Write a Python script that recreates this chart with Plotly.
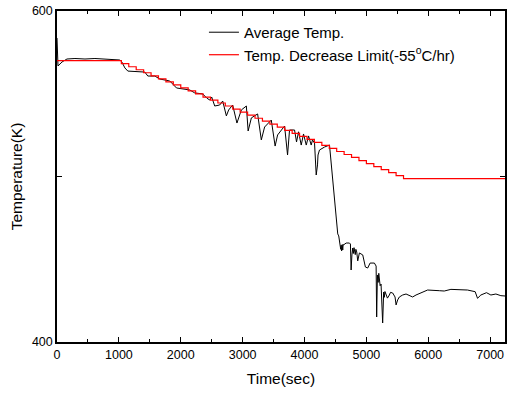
import plotly.graph_objects as go

# Average temperature (time in s, temperature in K)
avg_time = [0, 8, 16, 81, 161, 290, 452, 613, 774, 936, 1016, 1048, 1097, 1145, 1258, 1419,
            1468, 1581, 1661, 1742, 1823, 1931, 2065, 2145, 2226, 2355, 2420, 2468, 2500,
            2549, 2629, 2678, 2737, 2774, 2839, 2908, 2979, 3060, 3089, 3141, 3242, 3302,
            3355, 3463, 3525, 3565, 3678, 3726, 3758, 3839, 3871, 3904, 3947, 3984, 4028,
            4065, 4108, 4129, 4162, 4189, 4210, 4218, 4242, 4323, 4404, 4428, 4457, 4484,
            4500, 4521, 4537, 4553, 4573, 4585, 4592, 4600, 4608, 4618, 4624, 4629, 4673,
            4726, 4742, 4753, 4766, 4779, 4790, 4800, 4807, 4820, 4830, 4844, 4860, 4887,
            4941, 4984, 5021, 5060, 5129, 5157, 5166, 5178, 5190, 5200, 5210, 5222, 5237,
            5250, 5263, 5279, 5290, 5300, 5318, 5340, 5371, 5390, 5425, 5463, 5480, 5505,
            5533, 5586, 5641, 5694, 5747, 5802, 5989, 6178, 6258, 6366, 6634, 6758, 6796,
            6850, 6941, 7012, 7093, 7173, 7240]
avg_temp = [583.7, 568.6, 566.8, 569.2, 571.0, 571.3, 571.0, 571.3, 571.0, 570.7, 570.4, 569.2,
            565.6, 563.7, 563.4, 563.1, 560.7, 560.7, 558.9, 558.3, 557.7, 553.5, 552.9, 552.3,
            550.5, 549.9, 547.4, 546.2, 548.0, 542.6, 543.2, 545.6, 536.6, 540.2, 543.2, 532.3,
            540.2, 542.6, 527.5, 535.4, 537.8, 522.1, 529.9, 534.1, 518.4, 525.1, 530.5, 513.0,
            528.1, 528.1, 520.9, 527.0, 519.0, 525.7, 519.0, 524.5, 519.0, 522.1, 520.2, 500.9,
            507.0, 513.0, 516.0, 517.8, 519.0, 510.0, 497.9, 487.6, 481.6, 473.7, 465.3, 464.1,
            459.2, 456.0, 458.5, 455.0, 458.8, 455.6, 459.0, 458.6, 459.8, 459.8, 459.2, 443.5,
            452.6, 456.8, 453.5, 457.0, 455.6, 452.8, 456.0, 454.4, 449.0, 453.8, 452.6, 445.3,
            444.7, 447.7, 447.7, 445.9, 415.1, 440.5, 436.0, 441.5, 439.3, 434.0, 435.0, 425.4,
            411.5, 430.2, 427.0, 430.5, 428.4, 426.5, 428.4, 430.0, 429.6, 427.2, 422.4, 425.4,
            427.2, 428.4, 429.0, 428.1, 427.2, 428.4, 431.4, 431.0, 430.8, 431.8, 431.4, 430.4,
            426.4, 428.4, 429.8, 428.4, 429.0, 428.0, 427.8]

# Temperature decrease limit (-55 C/hr), step line
limit_time = [0, 1040, 1160, 1280, 1400, 1520, 1640, 1760, 1880, 2000, 2120, 2240, 2360, 2480,
              2600, 2720, 2840, 2960, 3080, 3200, 3320, 3440, 3560, 3680, 3800, 3920, 4040,
              4160, 4280, 4400, 4520, 4640, 4760, 4880, 5000, 5120, 5240, 5360, 5480, 5600, 7240]
limit_temp = [570.0, 568.2, 566.3, 564.5, 562.7, 560.8, 559.0, 557.2, 555.4, 553.5, 551.7, 549.9,
              548.0, 546.2, 544.4, 542.6, 540.7, 538.9, 537.1, 535.2, 533.4, 531.6, 529.8, 527.9,
              526.1, 524.3, 522.4, 520.6, 518.8, 517.0, 515.1, 513.3, 511.5, 509.6, 507.8, 506.0,
              504.2, 502.3, 500.5, 498.7, 498.7]

x_ticks = [0, 1000, 2000, 3000, 4000, 5000, 6000, 7000]
y_ticks = [400, 500, 600]
y_tick_text = ["400", "", "600"]

FONT = "Arial, 'Liberation Sans', sans-serif"

fig = go.Figure()
fig.add_trace(go.Scatter(x=avg_time, y=avg_temp, mode="lines", name="Average Temp.",
                         line=dict(color="black", width=1)))
fig.add_trace(go.Scatter(x=limit_time, y=limit_temp, mode="lines", line_shape="hv",
                         name="Temp. Decrease Limit(-55<sup>o</sup>C/hr)",
                         line=dict(color="#ff0000", width=1.2)))

axis_common = dict(showline=True, linecolor="black", linewidth=1.5, mirror="allticks",
                   ticks="inside", tickcolor="black", ticklen=5, tickwidth=1,
                   showgrid=False, zeroline=False, automargin=False,
                   tickfont=dict(family=FONT, size=12.5, color="black"))

fig.update_layout(
    width=507, height=394,
    margin=dict(l=57, r=2, t=11, b=52, autoexpand=False),
    paper_bgcolor="white", plot_bgcolor="white",
    font=dict(family=FONT, color="black"),
    showlegend=True,
    legend=dict(x=0.328, y=0.985, xanchor="left", yanchor="top",
                bgcolor="rgba(0,0,0,0)", borderwidth=0,
                font=dict(family=FONT, size=15, color="black")),
)
fig.update_xaxes(range=[0, 7240], tickvals=x_ticks,
                 minor=dict(dtick=500, tick0=0, ticks="inside", ticklen=3, tickcolor="black"),
                 title=dict(text="Time(sec)", font=dict(family=FONT, size=15.5), standoff=12),
                 **axis_common)
fig.update_yaxes(range=[400, 600], tickvals=y_ticks, ticktext=y_tick_text,
                 title=dict(text="Temperature(K)", font=dict(family=FONT, size=15.5), standoff=5),
                 **axis_common)

fig.write_html("out.html", config={"displayModeBar": False},
               post_script="document.body.style.margin='0';document.body.style.overflow='hidden';")
